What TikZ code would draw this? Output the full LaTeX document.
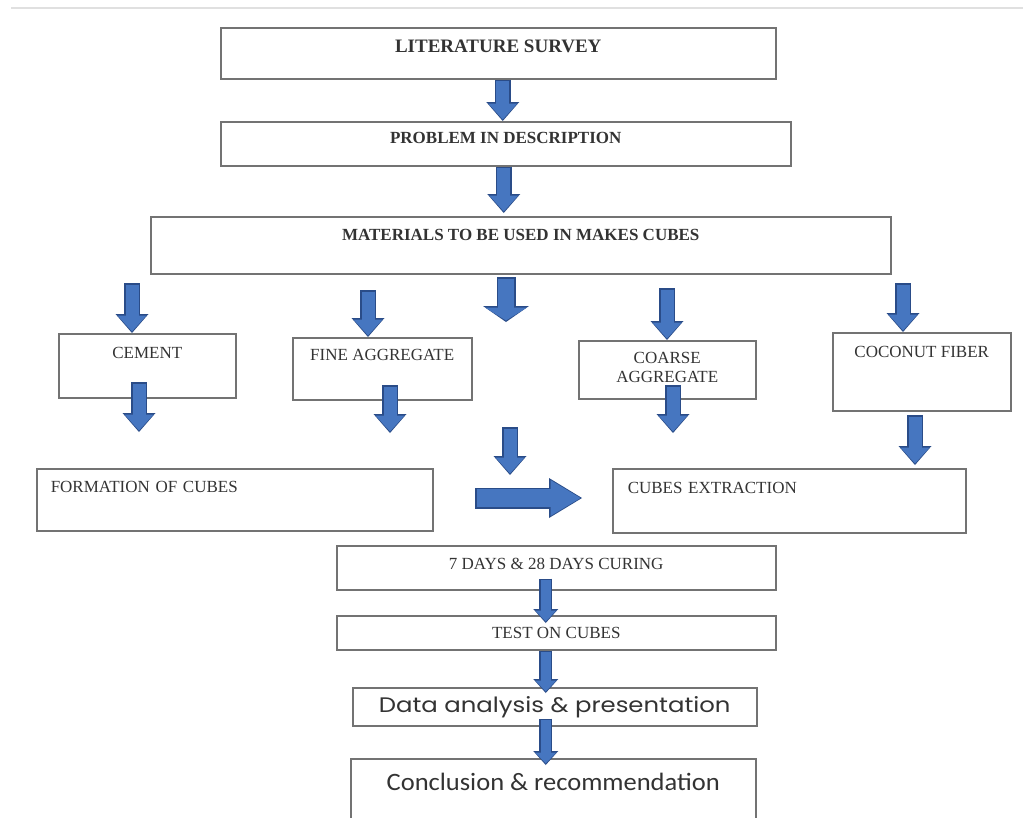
\documentclass[tikz,border=0pt]{standalone}
\usepackage{fontspec}
\setmainfont{Liberation Serif}
\newfontfamily\datafont[FakeStretch=1.16]{Poppins}
\newfontfamily\conclfont[FakeStretch=1.06]{Carlito}
\usetikzlibrary{arrows.meta}
\definecolor{arrowfill}{RGB}{70,118,192}
\definecolor{arrowedge}{RGB}{42,76,136}

\begin{document}
\begin{tikzpicture}
    [
    x = 1pt, y = -1pt,
    every node/.style = {font=\fontsize{17}{19}\selectfont, text=black!80},
    box/.style        = {draw=black!55, line width=1.5pt, anchor=north west, inner sep=0pt},
    title/.style      = {font=\bfseries\fontsize{17}{19}\selectfont},
    flow/.style       = {draw=arrowedge, line width=16pt,
                         -{Triangle[width=33pt,length=19pt,line width=0pt]},
                         postaction={draw=arrowfill, line width=13pt,
                         -{Triangle[width=29pt,length=16pt,line width=0pt]},
                         shorten <=1.5pt, shorten >=1.5pt}},
    bigflow/.style    = {draw=arrowedge, line width=19pt,
                         -{Triangle[width=46pt,length=16pt,line width=0pt]},
                         postaction={draw=arrowfill, line width=16pt,
                         -{Triangle[width=42pt,length=13pt,line width=0pt]},
                         shorten <=1.5pt, shorten >=1.5pt}},
    sideflow/.style   = {draw=arrowedge, line width=21pt,
                         -{Triangle[width=40pt,length=33pt,line width=0pt]},
                         postaction={draw=arrowfill, line width=18pt,
                         -{Triangle[width=36pt,length=30pt,line width=0pt]},
                         shorten <=1.5pt, shorten >=1.5pt}},
    thinflow/.style   = {draw=arrowedge, line width=13pt,
                         -{Triangle[width=25pt,length=14pt,line width=0pt]},
                         postaction={draw=arrowfill, line width=10pt,
                         -{Triangle[width=21pt,length=11pt,line width=0pt]},
                         shorten <=1.5pt, shorten >=1.5pt}}
    ]
    \useasboundingbox (0,0) rectangle (1023,817);
    \draw [black!12, line width=1.5pt] (11,8) -- (1023,8);

    \node [box, title, font=\bfseries\fontsize{19}{21}\selectfont, minimum width=555pt, text height=25pt, text depth=26pt] (lit) at (220,27) {LITERATURE SURVEY};
    \node [box, title, minimum width=570pt, text height=22pt, text depth=22pt] (prob) at (220,121) {PROBLEM IN DESCRIPTION};
    \node [box, title, minimum width=740pt, text height=24pt, text depth=33pt] (mat) at (150,216) {MATERIALS TO BE USED IN MAKES CUBES};

    \node [box, minimum width=177pt, text height=25pt, text depth=39pt] (cem) at (58,333) {CEMENT};
    \node [box, minimum width=179pt, text height=23pt, text depth=39pt] (fine) at (292,337) {FINE AGGREGATE};
    \node [box, minimum width=177pt, align=center, text height=42pt, text depth=16pt] (coarse) at (578,340) {COARSE\\AGGREGATE};
    \node [box, minimum width=178pt, text height=25pt, text depth=53pt] (coco) at (832,332) {COCONUT FIBER};

    \node [box, inner xsep=14pt, text width=368pt, align=left, text height=24pt, text depth=38pt] (form) at (36,468) {FORMATION OF CUBES};
    \node [box, inner xsep=15pt, text width=323pt, align=left, text height=25pt, text depth=39pt] (extr) at (612,468) {CUBES EXTRACTION};

    \node [box, minimum width=439pt, text height=24pt, text depth=20pt] (cure) at (336,545) {7 DAYS \& 28 DAYS CURING};
    \node [box, minimum width=439pt, text height=23pt, text depth=11pt] (test) at (336,615) {TEST ON CUBES};
    \node [box, font=\datafont\fontsize{21}{23}\selectfont, minimum width=404pt, text height=25pt, text depth=13pt] (data) at (352,687) {Data analysis \& presentation};
    \node [box, font=\conclfont\fontsize{25}{27}\selectfont, minimum width=405pt, text height=32pt, text depth=34pt] (concl) at (350,758) {Conclusion \& recommendation};

    \coordinate (m1) at (132,283);
    \coordinate (m2) at (368,290);
    \coordinate (m3) at (506,277);
    \coordinate (m3e) at (506,322);
    \coordinate (m4) at (667,288);
    \coordinate (m5) at (903,283);
    \coordinate (d1) at (139,382);
    \coordinate (d1e) at (139,432);
    \coordinate (d2) at (390,385);
    \coordinate (d2e) at (390,433);
    \coordinate (d3) at (510,427);
    \coordinate (d3e) at (510,475);
    \coordinate (d4) at (673,385);
    \coordinate (d4e) at (673,433);
    \coordinate (d5) at (915,415);
    \coordinate (d5e) at (915,465);
    \coordinate (h1) at (475,498);
    \coordinate (h1e) at (582,498);

    \draw [flow] ([xshift=4.5pt]lit.south) -- ([xshift=-3pt]prob.north);
    \draw [flow] ([xshift=-2pt]prob.south) -- ([xshift=-17pt,yshift=3pt]mat.north);
    \draw [flow] (m1) -- (m1 |- cem.north);
    \draw [flow] (m2) -- (m2 |- fine.north);
    \draw [bigflow] (m3) -- (m3e);
    \draw [flow] (m4) -- (m4 |- coarse.north);
    \draw [flow] (m5) -- (m5 |- coco.north);
    \draw [flow] (d1) -- (d1e);
    \draw [flow] (d2) -- (d2e);
    \draw [flow] (d3) -- (d3e);
    \draw [flow] (d4) -- (d4e);
    \draw [flow] (d5) -- (d5e);
    \draw [sideflow] (h1) -- (h1e);
    \draw [thinflow] ([xshift=-10.5pt,yshift=12pt]cure.south) -- ([xshift=-10.5pt,yshift=-8pt]test.north);
    \draw [thinflow] ([xshift=-10.5pt]test.south) -- ([xshift=-9pt,yshift=-6pt]data.north);
    \draw [thinflow] ([xshift=-9pt,yshift=8pt]data.south) -- ([xshift=-7.5pt,yshift=-7pt]concl.north);
\end{tikzpicture}
\end{document}
